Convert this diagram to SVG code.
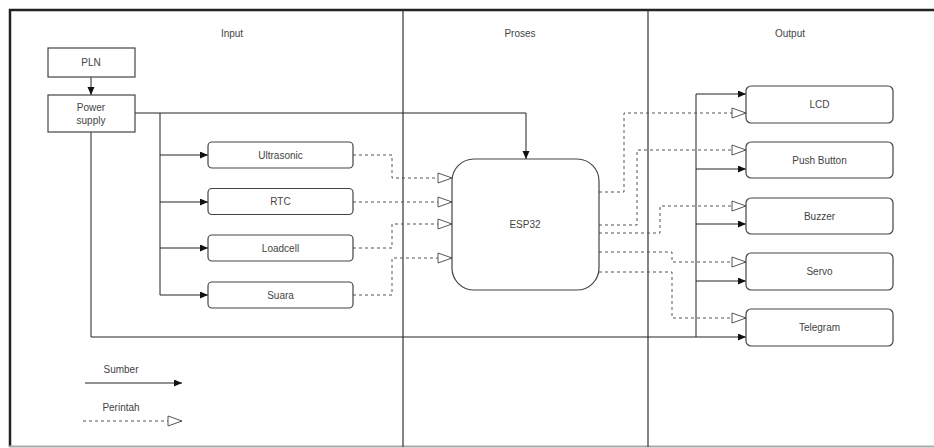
<svg xmlns="http://www.w3.org/2000/svg" width="934" height="448" viewBox="0 0 934 448">
<defs>
<style>
text{font-family:"Liberation Sans",Arial,sans-serif;font-size:10px;fill:#444;text-anchor:middle;dominant-baseline:central}
.box{fill:#fff;stroke:#444;stroke-width:1.2}
.solid{fill:none;stroke:#222;stroke-width:1}
.dash{fill:none;stroke:#555;stroke-width:1;stroke-dasharray:3 3}
.frame{fill:none;stroke:#333;stroke-width:1.2}
</style>
<marker id="fa" markerUnits="userSpaceOnUse" markerWidth="9" markerHeight="8" refX="8" refY="3.5" orient="auto">
<path d="M0,0 L8,3.5 L0,7 z" fill="#111"/>
</marker>
<marker id="oa" markerUnits="userSpaceOnUse" markerWidth="16" markerHeight="12" refX="15" refY="6" orient="auto">
<path d="M1,1 L15,6 L1,11 z" fill="#fff" stroke="#555" stroke-width="1"/>
</marker>
</defs>
<rect x="0" y="0" width="934" height="448" fill="#fff"/>
<g id="frame">
<line x1="9" y1="10" x2="934" y2="10" stroke="#222" stroke-width="2.5"/>
<line x1="10" y1="9" x2="10" y2="447" stroke="#222" stroke-width="2.5"/>
<line x1="9" y1="446.5" x2="934" y2="446.5" stroke="#aaa" stroke-width="2"/>
<line x1="403" y1="10" x2="403" y2="447" class="frame"/>
<line x1="648" y1="10" x2="648" y2="447" class="frame"/>
<text x="232" y="33">Input</text>
<text x="520" y="33">Proses</text>
<text x="790" y="33">Output</text>
</g>
<g id="connectors">
<path class="solid" d="M91,77 V95" marker-end="url(#fa)"/>
<path class="solid" d="M135,113 H526 V159" marker-end="url(#fa)"/>
<path class="solid" d="M160,113 V295 H208" marker-end="url(#fa)"/>
<path class="solid" d="M160,155 H208" marker-end="url(#fa)"/>
<path class="solid" d="M160,202 H208" marker-end="url(#fa)"/>
<path class="solid" d="M160,248 H208" marker-end="url(#fa)"/>
<path class="solid" d="M91,132 V337 H746" marker-end="url(#fa)"/>
<path class="solid" d="M696,337 V94 H746" marker-end="url(#fa)"/>
<path class="solid" d="M696,169 H746" marker-end="url(#fa)"/>
<path class="solid" d="M696,224 H746" marker-end="url(#fa)"/>
<path class="solid" d="M696,281 H746" marker-end="url(#fa)"/>
<path class="dash" d="M353,155 H392 V178 H452" marker-end="url(#oa)"/>
<path class="dash" d="M353,202 H452" marker-end="url(#oa)"/>
<path class="dash" d="M353,248 H392 V224 H452" marker-end="url(#oa)"/>
<path class="dash" d="M353,295 H392 V258 H452" marker-end="url(#oa)"/>
<path class="dash" d="M599,192 H624 V113 H746" marker-end="url(#oa)"/>
<path class="dash" d="M599,225 H637 V150 H746" marker-end="url(#oa)"/>
<path class="dash" d="M599,233 H660 V206 H746" marker-end="url(#oa)"/>
<path class="dash" d="M599,252 H672 V262 H746" marker-end="url(#oa)"/>
<path class="dash" d="M599,272 H672 V318 H746" marker-end="url(#oa)"/>
</g>
<g id="pln"><rect class="box" x="48" y="48" width="87" height="29"/><text x="91" y="62.5">PLN</text></g>
<g id="power-supply"><rect class="box" x="48" y="95" width="87" height="37"/><text x="91" y="107">Power</text><text x="91" y="120">supply</text></g>
<g id="ultrasonic"><rect class="box" x="208" y="142" width="145" height="26" rx="4"/><text x="280.5" y="155">Ultrasonic</text></g>
<g id="rtc"><rect class="box" x="208" y="188.5" width="145" height="26" rx="4"/><text x="280.5" y="201.5">RTC</text></g>
<g id="loadcell"><rect class="box" x="208" y="235" width="145" height="26" rx="4"/><text x="280.5" y="248">Loadcell</text></g>
<g id="suara"><rect class="box" x="208" y="282" width="145" height="26" rx="4"/><text x="280.5" y="295">Suara</text></g>
<g id="esp32"><rect class="box" x="452" y="159" width="147" height="131" rx="22"/><text x="525" y="224">ESP32</text></g>
<g id="lcd"><rect class="box" x="746" y="86" width="147" height="37" rx="5"/><text x="819.5" y="104.5">LCD</text></g>
<g id="push-button"><rect class="box" x="746" y="142" width="147" height="36" rx="5"/><text x="819.5" y="160">Push Button</text></g>
<g id="buzzer"><rect class="box" x="746" y="198" width="147" height="36" rx="5"/><text x="819.5" y="216">Buzzer</text></g>
<g id="servo"><rect class="box" x="746" y="253" width="147" height="37" rx="5"/><text x="819.5" y="271.5">Servo</text></g>
<g id="telegram"><rect class="box" x="746" y="309" width="147" height="37" rx="5"/><text x="819.5" y="327.5">Telegram</text></g>
<g id="legend">
<text x="121" y="369">Sumber</text>
<path class="solid" d="M85,383 H182" marker-end="url(#fa)"/>
<text x="121" y="407">Perintah</text>
<path class="dash" d="M83,421 H182" marker-end="url(#oa)"/>
</g>
</svg>
